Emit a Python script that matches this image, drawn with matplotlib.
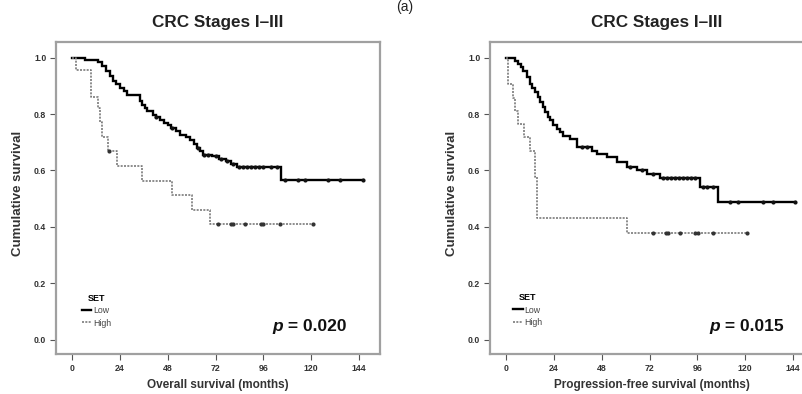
import numpy as np
import matplotlib
matplotlib.use("Agg")
import matplotlib.pyplot as plt
from matplotlib.lines import Line2D

plt.rcParams['font.family'] = ['Liberation Sans', 'DejaVu Sans']

# ---------------- data ----------------
# Overall survival, SET low
low_os_t = [0, 6.5, 13, 15, 17, 19, 20.5, 22, 24, 26, 27.5, 34, 35, 36.5, 37.5,
            40.5, 42, 44, 46, 48, 49.5, 52, 54, 57, 59, 61, 62.5, 64, 65.5, 70,
            74, 77.5, 80, 83, 105]
low_os_s = [1.0, 0.993, 0.985, 0.97, 0.951, 0.935, 0.916, 0.905, 0.892, 0.88,
            0.869, 0.845, 0.833, 0.82, 0.81, 0.798, 0.79, 0.778, 0.768, 0.76,
            0.751, 0.74, 0.727, 0.718, 0.709, 0.695, 0.68, 0.668, 0.656, 0.65,
            0.64, 0.632, 0.622, 0.612, 0.567]
low_os_end = 146
low_os_cens = [42, 50, 63, 66, 68, 72, 75, 78, 81, 84, 86, 88, 90, 92, 94, 96,
               100, 103, 107, 113.5, 117, 128.5, 134.5, 146]

# Overall survival, SET high
high_os_t = [0, 2, 9.5, 13, 14, 15, 18, 22.5, 35, 50, 60, 69]
high_os_s = [1.0, 0.955, 0.86, 0.82, 0.773, 0.72, 0.668, 0.615, 0.561, 0.514,
             0.461, 0.41]
high_os_end = 121
high_os_cens = [18.5, 73.5, 80, 81, 87, 95, 96, 104.5, 121]

# Progression-free survival, SET low
low_pfs_t = [0, 4.5, 6.2, 7.5, 8.7, 10.4, 12, 13.3, 14.6, 16, 17.1, 18.5, 19.6,
             21, 22.1, 23.5, 25.4, 27, 28.8, 32.1, 35.5, 43, 45.5, 50.5, 55.5,
             60.5, 65.5, 70.6, 77.3, 97.3, 106.5]
low_pfs_s = [1.0, 0.989, 0.978, 0.966, 0.954, 0.93, 0.907, 0.892, 0.877, 0.86,
             0.842, 0.824, 0.806, 0.79, 0.777, 0.762, 0.747, 0.735, 0.723, 0.712,
             0.682, 0.67, 0.659, 0.647, 0.629, 0.611, 0.6, 0.588, 0.573, 0.54,
             0.49]
low_pfs_end = 145
low_pfs_cens = [38, 40.5, 62, 68, 74, 79, 81, 83, 85, 87, 89, 91, 93, 95, 99,
                101, 104, 112.4, 116.6, 129, 134, 145]

# Progression-free survival, SET high
high_pfs_t = [0, 1, 3.5, 4.5, 6, 9, 12, 14.5, 15.5, 60.5]
high_pfs_s = [1.0, 0.905, 0.857, 0.81, 0.765, 0.717, 0.67, 0.576, 0.43, 0.38]
high_pfs_end = 121
high_pfs_cens = [74, 80.5, 81.5, 87.3, 94.8, 96.5, 104, 121]

xticks = [0, 24, 48, 72, 96, 120, 144]
yticks = [0.0, 0.2, 0.4, 0.6, 0.8, 1.0]
titles = ["CRC Stages I\u2013III", "CRC Stages I\u2013III"]
xlabels = ["Overall survival (months)", "Progression-free survival (months)"]
pvalues = [" = 0.020", " = 0.015"]
groups = ["Low", "High"]

# ---------------- figure ----------------
W, H = 803, 394
fig = plt.figure(figsize=(W / 100, H / 100), dpi=100)

def px_axes(x0, y0, x1, y1):
    return fig.add_axes([x0 / W, 1 - y1 / H, (x1 - x0) / W, (y1 - y0) / H])

ax1 = px_axes(56, 42, 380, 354)
ax2 = px_axes(490, 42, 814, 354)

low_style = dict(color='black', lw=1.7, solid_joinstyle='miter')
high_style = dict(color='#7a7a7a', lw=1.2, ls=(0, (1.2, 0.8)))


def km(ax, t, s, end, cens, style, mcolor):
    tt = list(t) + [end]
    ss = list(s) + [s[-1]]
    ax.step(tt, ss, where='post', **style)
    idx = np.searchsorted(np.asarray(t), np.asarray(cens), side='right') - 1
    cy = np.asarray(s)[idx]
    ax.plot(cens, cy, ls='none', marker='o', ms=3.0, color=mcolor,
            markeredgewidth=0)


panels = [
    (ax1, (low_os_t, low_os_s, low_os_end, low_os_cens),
     (high_os_t, high_os_s, high_os_end, high_os_cens), 0, 0.5, 0.70,
     (0.06, 0.138)),
    (ax2, (low_pfs_t, low_pfs_s, low_pfs_end, low_pfs_cens),
     (high_pfs_t, high_pfs_s, high_pfs_end, high_pfs_cens), 1, 0.515, 0.71,
     (0.052, 0.141)),
]

for ax, low, high, i, tx, px, lpos in panels:
    km(ax, *low, low_style, '#111111')
    km(ax, *high, high_style, '#333333')
    ax.set_xlim(-8, 154.5)
    ax.set_ylim(-0.05, 1.055)
    ax.set_xticks(xticks)
    ax.set_yticks(yticks)
    ax.set_xticklabels([str(v) for v in xticks])
    ax.set_yticklabels([f"{v:.1f}" for v in yticks])
    for sp in ax.spines.values():
        sp.set_color('#a0a0a0')
        sp.set_linewidth(1.6)
    ax.tick_params(axis='both', direction='out', length=4, width=0.8,
                   color='#555555', labelsize=6.3, labelcolor='#333333', pad=3)
    for lab in ax.get_xticklabels() + ax.get_yticklabels():
        lab.set_fontweight('bold')
    ax.text(tx, 1 + 20 / 312, titles[i], transform=ax.transAxes, ha='center',
            va='center', fontsize=12.3, fontweight='bold', color='#222222')
    ax.set_xlabel(xlabels[i], fontsize=8.5, fontweight='bold', color='#333333',
                  va='center')
    ax.xaxis.set_label_coords(0.5, -0.099)
    ax.set_ylabel("Cumulative survival", fontsize=9.5, fontweight='bold',
                  color='#333333', va='center')
    ax.yaxis.set_label_coords(-0.117, 0.516)
    ax.text(px, 0.088, 'p', transform=ax.transAxes, ha='right', va='center',
            fontsize=12.5, fontweight='bold', style='italic', color='#111111')
    ax.text(px, 0.088, pvalues[i], transform=ax.transAxes, ha='left',
            va='center', fontsize=12.5, fontweight='bold', color='#111111')
    handles = [Line2D([], [], **low_style), Line2D([], [], **high_style)]
    leg = ax.legend(handles, groups, title='SET', loc='center left',
                    bbox_to_anchor=lpos, frameon=False,
                    fontsize=6.3, title_fontsize=6.5, handlelength=1.1,
                    handletextpad=0.2, labelspacing=0.35, borderpad=0.2)
    leg.get_title().set_fontweight('bold')
    for txt in leg.get_texts():
        txt.set_color('#444444')

fig.text(405 / W, 1 - 7 / H, "(a)", ha='center', va='center', fontsize=10,
         color='#222222')

fig.savefig('out.png', dpi=100)
